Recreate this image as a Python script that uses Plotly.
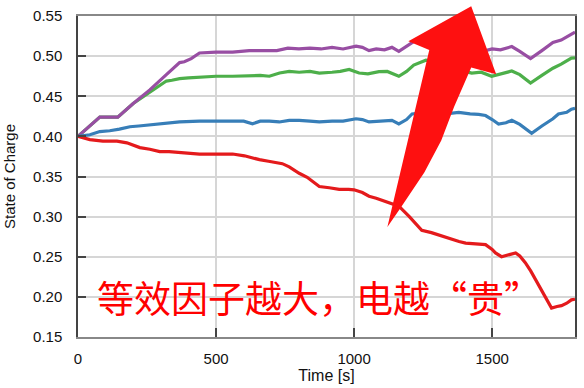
import plotly.graph_objects as go

# ---------------- data ----------------
t_purple = [0, 40, 79, 100, 144, 200, 260, 320, 368, 385, 410, 440, 500, 560, 620, 680, 720,
            760, 800, 840, 880, 920, 960, 1007, 1030, 1054, 1080, 1110, 1137, 1162, 1190, 1210,
            1240, 1270, 1300, 1350, 1400, 1440, 1476, 1500, 1530, 1571, 1600, 1639, 1680, 1720,
            1750, 1787, 1800]
soc_purple = [0.400, 0.412, 0.424, 0.424, 0.424, 0.441, 0.458, 0.477, 0.492, 0.493, 0.497, 0.504,
              0.505, 0.505, 0.507, 0.507, 0.507, 0.510, 0.509, 0.510, 0.509, 0.511, 0.509, 0.5125,
              0.511, 0.507, 0.509, 0.508, 0.511, 0.506, 0.512, 0.517, 0.522, 0.524, 0.520, 0.515,
              0.513, 0.511, 0.507, 0.509, 0.508, 0.512, 0.506, 0.497, 0.507, 0.517, 0.520, 0.528,
              0.530]

t_green = [0, 40, 79, 100, 144, 200, 260, 290, 320, 340, 368, 400, 440, 500, 560, 620, 660, 693,
           730, 765, 801, 840, 874, 920, 950, 982, 1018, 1050, 1090, 1120, 1162, 1190, 1216, 1260,
           1300, 1350, 1400, 1426, 1460, 1498, 1530, 1571, 1600, 1639, 1680, 1720, 1750, 1787, 1800]
soc_green = [0.400, 0.412, 0.424, 0.424, 0.424, 0.441, 0.455, 0.462, 0.469, 0.470, 0.472, 0.473,
             0.474, 0.475, 0.475, 0.476, 0.476, 0.475, 0.479, 0.481, 0.480, 0.481, 0.479, 0.480,
             0.481, 0.4835, 0.479, 0.478, 0.4807, 0.481, 0.475, 0.481, 0.489, 0.495, 0.493, 0.487,
             0.481, 0.479, 0.480, 0.475, 0.478, 0.4815, 0.477, 0.4665, 0.476, 0.485, 0.490, 0.4977,
             0.498]

t_blue = [0, 43, 79, 115, 150, 188, 220, 260, 300, 368, 440, 500, 560, 600, 632, 660, 693, 729,
          765, 801, 840, 874, 920, 960, 1007, 1030, 1054, 1090, 1137, 1162, 1190, 1210, 1260, 1300,
          1332, 1379, 1420, 1451, 1476, 1500, 1523, 1550, 1571, 1600, 1643, 1680, 1720, 1740, 1770,
          1787, 1800]
soc_blue = [0.400, 0.402, 0.406, 0.407, 0.409, 0.412, 0.413, 0.4145, 0.416, 0.418, 0.419, 0.419,
            0.419, 0.419, 0.4157, 0.419, 0.419, 0.418, 0.420, 0.420, 0.419, 0.418, 0.419, 0.419,
            0.422, 0.421, 0.418, 0.419, 0.420, 0.4155, 0.421, 0.428, 0.430, 0.429, 0.428, 0.430,
            0.428, 0.4275, 0.426, 0.421, 0.4155, 0.417, 0.420, 0.415, 0.404, 0.413, 0.422, 0.428,
            0.430, 0.434, 0.435]

t_red = [0, 20, 43, 90, 141, 177, 200, 224, 260, 296, 330, 368, 400, 440, 500, 560, 603, 630, 657,
         690, 711, 740, 765, 801, 830, 874, 910, 946, 980, 1000, 1030, 1054, 1080, 1115, 1140, 1162,
         1200, 1245, 1280, 1307, 1330, 1354, 1380, 1404, 1440, 1476, 1500, 1512, 1534, 1560, 1585,
         1600, 1620, 1640, 1668, 1690, 1715, 1735, 1751, 1770, 1787, 1800]
soc_red = [0.400, 0.398, 0.396, 0.394, 0.394, 0.392, 0.389, 0.386, 0.384, 0.381, 0.381, 0.380,
           0.379, 0.378, 0.378, 0.378, 0.3758, 0.373, 0.371, 0.369, 0.3677, 0.366, 0.362, 0.354,
           0.349, 0.3375, 0.336, 0.334, 0.334, 0.3334, 0.330, 0.3254, 0.323, 0.319, 0.316, 0.313,
           0.300, 0.283, 0.280, 0.277, 0.274, 0.271, 0.269, 0.267, 0.266, 0.265, 0.259, 0.2547,
           0.250, 0.252, 0.2547, 0.251, 0.2426, 0.232, 0.2144, 0.200, 0.186, 0.188, 0.189, 0.192,
           0.1962, 0.197]

x_ticks = [0, 500, 1000, 1500]
x_tick_text = ["0", "500", "1000", "1500"]
y_ticks = [0.15, 0.20, 0.25, 0.30, 0.35, 0.40, 0.45, 0.50, 0.55]
y_tick_text = ["0.15", "0.20", "0.25", "0.30", "0.35", "0.40", "0.45", "0.50", "0.55"]

series = [
    (t_purple, soc_purple, "#984ea3"),
    (t_green, soc_green, "#4daf4a"),
    (t_blue, soc_blue, "#377eb8"),
    (t_red, soc_red, "#e41a1c"),
]
note_text = "等效因子越大，电越“贵”"

# ---------------- figure ----------------
W, H = 584, 388
ML, MR, MT, MB = 78, 8, 7, 51
PW, PH = W - ML - MR, H - MT - MB

fig = go.Figure()
for t, v, c in [series[1], series[0], series[2], series[3]]:
    fig.add_trace(go.Scatter(x=t, y=v, mode="lines",
                             line=dict(color=c, width=3.2), showlegend=False))


def px2paper(px, py):
    return (px - ML) / PW, (H - MB - py) / PH


arrow_px = [(388, 224), (430, 42), (409, 33), (472, -3), (497, 67), (472, 60),
            (455, 100), (442, 135), (425, 168), (402, 203)]
pts = [px2paper(a, b) for a, b in arrow_px]
path = "M " + " L ".join(f"{x:.4f},{y:.4f}" for x, y in pts) + " Z"
fig.add_shape(type="path", path=path, xref="paper", yref="paper",
              fillcolor="#fe1010", line=dict(width=0), layer="above")

tx, ty = px2paper(95, 296)
fig.add_annotation(x=tx, y=ty, xref="paper", yref="paper", text=note_text,
                   showarrow=False, xanchor="left", yanchor="middle",
                   font=dict(family="Noto Sans CJK SC", size=37, color="#ff0000"))

FAM = "Liberation Sans, Arial"
axis_font = dict(family=FAM, size=15, color="#111111")
fig.update_layout(
    width=W, height=H, autosize=False,
    margin=dict(l=ML, r=MR, t=MT, b=MB),
    paper_bgcolor="white", plot_bgcolor="white",
    xaxis=dict(range=[0, 1800], tickvals=x_ticks, ticktext=x_tick_text,
               showgrid=True, gridcolor="#d6d6d6", gridwidth=1.5,
               showline=True, linecolor="#888", linewidth=1.5, mirror=True,
               ticks="inside", ticklen=9, tickcolor="#444", tickwidth=1.5,
               tickfont=axis_font, ticklabelstandoff=7, zeroline=False,
               ticklabeloverflow="allow",
               title=dict(text="Time [s]", font=dict(family=FAM, size=16, color="#111111"),
                          standoff=3)),
    yaxis=dict(range=[0.1499, 0.5501], tickvals=y_ticks, ticktext=y_tick_text,
               showgrid=True, gridcolor="#d6d6d6", gridwidth=1.5,
               showline=True, linecolor="#444", linewidth=1.5, mirror=True,
               ticks="inside", ticklen=8, tickcolor="#444", tickwidth=1.5,
               tickfont=axis_font, ticklabelstandoff=11, zeroline=False,
               ticklabeloverflow="allow",
               title=dict(text="State of Charge", font=dict(family=FAM, size=15, color="#111111"),
                          standoff=14)),
)

fig.write_html("out.html")
